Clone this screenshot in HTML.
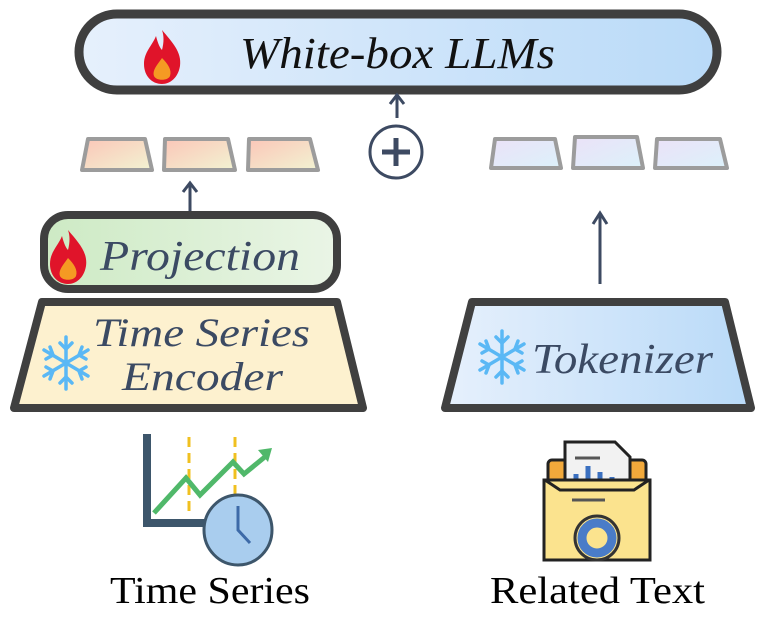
<!DOCTYPE html>
<html><head><meta charset="utf-8"><style>
html,body{margin:0;padding:0;background:#fff;width:765px;height:642px;overflow:hidden}
svg text{font-family:"Liberation Serif",serif}
</style></head><body>
<svg width="765" height="642" viewBox="0 0 765 642" xmlns="http://www.w3.org/2000/svg">
<defs>
<linearGradient id="blue" x1="0" x2="1"><stop offset="0" stop-color="#e6f0fc"/><stop offset="1" stop-color="#b9daf8"/></linearGradient>
<linearGradient id="green" x1="0" x2="1"><stop offset="0" stop-color="#cdeac4"/><stop offset="1" stop-color="#eaf5e6"/></linearGradient>
<linearGradient id="warm" x1="0" y1="0" x2="1" y2="1"><stop offset="0" stop-color="#fbc6b8"/><stop offset="1" stop-color="#f2f3d2"/></linearGradient>
<linearGradient id="cool" x1="0" y1="0" x2="1" y2="1"><stop offset="0" stop-color="#ebe2f8"/><stop offset="1" stop-color="#dcf1fa"/></linearGradient>
<g id="fire"><path d="M0,-26 C10,-14 20,-4 18,10 C16,22 8,28 0,28 C-10,28 -18,20 -18,8 C-18,-4 -10,-10 -6,-20 C-4,-12 -2,-8 0,-6 C2,-14 2,-20 0,-26Z" fill="#e0142a"/><path d="M0,2 C6,8 10,14 8,20 C6,25 -6,25 -8,20 C-10,14 -4,8 0,2Z" fill="#f59a23"/></g>
<g id="snow" stroke="#5ab8f5" stroke-width="3.5" stroke-linecap="round" fill="none"><path d="M0,-26V26M-22,-13L22,13M-22,13L22,-13"/><path d="M-6,-20L0,-14L6,-20M-6,20L0,14L6,20M-20,-4L-13,-8L-16,-16M20,4L13,8L16,16M-20,4L-13,8L-16,16M20,-4L13,-8L16,-16"/></g>
</defs>
<rect x="79" y="14" width="638" height="76" rx="38" fill="url(#blue)" stroke="#3f3f3f" stroke-width="9"/>
<use href="#fire" x="162" y="56"/>
<text x="240" y="68" font-size="44" font-style="italic" textLength="315" lengthAdjust="spacingAndGlyphs" fill="#111">White-box LLMs</text>
<g stroke="#3d4a62" stroke-width="3" fill="none">
<path d="M397,118V96M390,104L397,95L404,104"/>
<circle cx="396" cy="152" r="26"/><path d="M382,152H410M396,138V166" stroke-width="5"/>
<path d="M190,212V184M183,192L190,183L197,192"/>
<path d="M600,284V214M593,224L600,213L607,224"/>
</g>
<g stroke="#9c9c9c" stroke-width="4" stroke-linejoin="round">
<path d="M88,139H145L152,170H82Z" fill="url(#warm)"/>
<path d="M165,139H228L235,170H164Z" fill="url(#warm)"/>
<path d="M249,139H310L318,170H248Z" fill="url(#warm)"/>
<path d="M495,139H555L561,168H491Z" fill="url(#cool)"/>
<path d="M575,137H637L643,168H573Z" fill="url(#cool)"/>
<path d="M657,139H720L727,168H655Z" fill="url(#cool)"/>
</g>
<rect x="44" y="215" width="293" height="74" rx="24" fill="url(#green)" stroke="#3f3f3f" stroke-width="8"/>
<use href="#fire" x="68" y="256"/>
<text x="100" y="270" font-size="42" font-style="italic" textLength="200" lengthAdjust="spacingAndGlyphs" fill="#3b4a63">Projection</text>
<path d="M42,302H337L363,408H14Z" fill="#fdf1cf" stroke="#404040" stroke-width="8" stroke-linejoin="round"/>
<use href="#snow" x="66" y="363"/>
<text x="93" y="346" font-size="40" font-style="italic" textLength="217" lengthAdjust="spacingAndGlyphs" fill="#3b4a63">Time Series</text>
<text x="122" y="390" font-size="40" font-style="italic" textLength="161" lengthAdjust="spacingAndGlyphs" fill="#3b4a63">Encoder</text>
<path d="M472,302H725L751,408H445Z" fill="url(#blue)" stroke="#404040" stroke-width="8" stroke-linejoin="round"/>
<use href="#snow" x="502" y="357"/>
<text x="532" y="373" font-size="42" font-style="italic" textLength="181" lengthAdjust="spacingAndGlyphs" fill="#3b4a63">Tokenizer</text>
<!-- time series icon -->
<path d="M147,434V523H212" stroke="#3d566b" stroke-width="8" fill="none"/>
<path d="M189,437V516M235,437V500" stroke="#f0c020" stroke-width="3" stroke-dasharray="10,6"/>
<path d="M154,513L186,478L200,495L233,462L244,474L266,456" stroke="#50b86a" stroke-width="5" fill="none"/>
<path d="M258,450L272,448L268,462Z" fill="#50b86a"/>
<ellipse cx="238" cy="530" rx="34" ry="35" fill="#a9cdee" stroke="#3d566b" stroke-width="3"/>
<path d="M238,506V530L250,543" stroke="#3d6aa8" stroke-width="3" fill="none"/>
<!-- folder icon -->
<g stroke="#222" stroke-width="3">
<rect x="548" y="460" width="98" height="60" rx="4" fill="#f2a93b"/>
<path d="M565,510V442H615L630,457V510Z" fill="#f2f2f2"/>
<path d="M575,458H600" stroke="#555"/>
<path d="M576,485V474M588,485V466M600,485V472M612,485V477" stroke="#3b70c0" stroke-width="5"/>
<path d="M544,480H650V560H544Z" fill="#fbe38e"/>
<path d="M545,480L560,490H634L649,480" fill="none"/>
<path d="M572,500H605" stroke="#555"/>
<circle cx="597" cy="538" r="22" fill="#fbe38e" stroke="#333" stroke-width="3"/>
<circle cx="597" cy="538" r="15" fill="none" stroke="#4a7cc8" stroke-width="9"/>
</g>
<text x="110" y="603" font-size="38" textLength="200" lengthAdjust="spacingAndGlyphs" fill="#000">Time Series</text>
<text x="490" y="603" font-size="38" textLength="215" lengthAdjust="spacingAndGlyphs" fill="#000">Related Text</text>
</svg>
</body></html>
